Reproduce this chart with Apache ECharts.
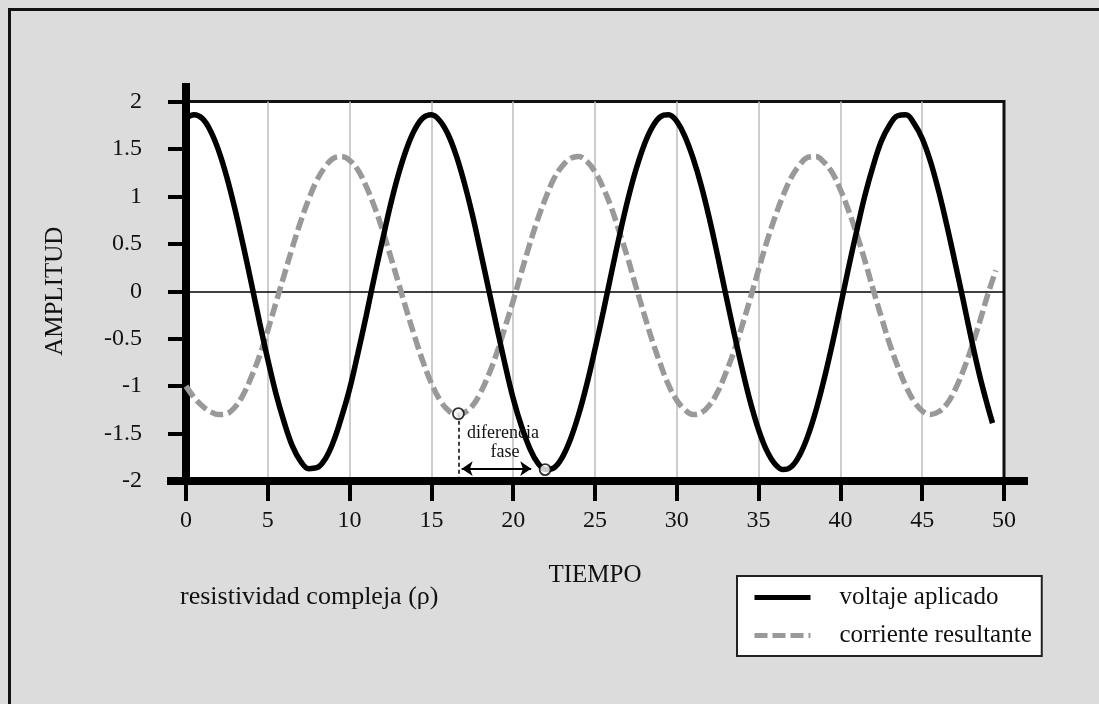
<!DOCTYPE html>
<html>
<head>
<meta charset="utf-8">
<script src="https://cdn.jsdelivr.net/npm/echarts@6/dist/echarts.min.js"></script>
<style>
html,body{margin:0;padding:0;background:#dcdcdc;}
#chart{width:1099px;height:704px;}
</style>
</head>
<body>
<div id="chart"></div>
<script>
// tiempo (eje x) y valores
var tiempoV = [0,0.5,1,1.5,2,2.5,3,3.5,4,4.5,5,5.5,6,6.5,7,7.5,8,8.5,9,9.5,10,10.5,11,11.5,12,12.5,13,13.5,14,14.5,
    15,15.5,16,16.5,17,17.5,18,18.5,19,19.5,20,20.5,21,21.5,22,22.5,23,23.5,24,24.5,25,25.5,26,26.5,27,27.5,28,28.5,29,29.5,
    30,30.5,31,31.5,32,32.5,33,33.5,34,34.5,35,35.5,36,36.5,37,37.5,38,38.5,39,39.5,40,40.5,41,41.5,42,42.5,43,43.5,44,44.5,
    45,45.5,46,46.5,47,47.5,48,48.5,49,49.3];
var voltaje = [1.82,1.86,1.82,1.69,1.48,1.20,0.86,0.48,0.08,-0.33,-0.72,-1.08,-1.38,-1.63,-1.79,-1.87,-1.86,-1.77,-1.59,-1.33,
    -1.03,-0.66,-0.27,0.14,0.53,0.91,1.24,1.51,1.71,1.83,1.86,1.80,1.66,1.44,1.15,0.81,0.42,0.02,-0.38,-0.77,
    -1.13,-1.42,-1.65,-1.81,-1.88,-1.86,-1.75,-1.56,-1.30,-0.98,-0.61,-0.22,0.19,0.59,0.96,1.28,1.54,1.73,1.84,1.86,
    1.79,1.63,1.40,1.11,0.76,0.37,-0.04,-0.44,-0.82,-1.17,-1.46,-1.68,-1.82,-1.88,-1.85,-1.73,-1.53,-1.26,-0.93,-0.56,
    -0.16,0.25,0.64,1.01,1.32,1.58,1.75,1.85,1.86,1.77,1.61,1.37,1.06,0.70,0.31,-0.09,-0.50,-0.88,-1.21,-1.39];

var tiempoI = [0,0.5,1,1.5,2,2.5,3,3.5,4,4.5,5,5.5,6,6.5,7,7.5,8,8.5,9,9.5,10,10.5,11,11.5,12,12.5,13,13.5,14,14.5,
    15,15.5,16,16.5,17,17.5,18,18.5,19,19.5,20,20.5,21,21.5,22,22.5,23,23.5,24,24.5,25,25.5,26,26.5,27,27.5,28,28.5,29,29.5,
    30,30.5,31,31.5,32,32.5,33,33.5,34,34.5,35,35.5,36,36.5,37,37.5,38,38.5,39,39.5,40,40.5,41,41.5,42,42.5,43,43.5,44,44.5,
    45,45.5,46,46.5,47,47.5,48,48.5,49,49.5];
var corriente = [-1.00,-1.12,-1.21,-1.27,-1.30,-1.29,-1.22,-1.09,-0.90,-0.68,-0.41,-0.12,0.17,0.46,0.73,0.97,1.17,1.31,1.40,1.42,
    1.38,1.28,1.11,0.90,0.65,0.37,0.08,-0.21,-0.49,-0.75,-0.97,-1.14,-1.25,-1.30,-1.28,-1.21,-1.07,-0.88,-0.65,-0.38,
    -0.10,0.20,0.49,0.76,0.99,1.19,1.32,1.40,1.42,1.37,1.26,1.09,0.88,0.62,0.35,0.05,-0.24,-0.52,-0.77,-0.99,
    -1.15,-1.25,-1.30,-1.28,-1.20,-1.06,-0.86,-0.63,-0.36,-0.07,0.23,0.52,0.78,1.01,1.20,1.33,1.41,1.42,1.36,1.25,
    1.07,0.85,0.60,0.32,0.02,-0.27,-0.55,-0.79,-1.00,-1.16,-1.26,-1.30,-1.27,-1.19,-1.04,-0.84,-0.60,-0.33,-0.04,0.22];

// minimos marcados para la diferencia de fase
var puntosFase = [[16.65, -1.29], [21.95, -1.88]];
var flechaFase = [[16.85, -1.87], [21.1, -1.87]];

var nombres = ['voltaje aplicado', 'corriente resultante'];
var fuente = 'Liberation Serif';

function pares(xs, ys) {
    var d = [];
    for (var i = 0; i < xs.length; i++) d.push([xs[i], ys[i]]);
    return d;
}

var myChart = echarts.init(document.getElementById('chart'));

// lineas verticales grises, la ultima (x=50) hace de borde del cuadro
var colorRejilla = ['#000'];
for (var k = 1; k < 10; k++) colorRejilla.push('#bdbdbd');
colorRejilla.push('#111');

var option = {
    backgroundColor: '#dcdcdc',
    animation: false,
    textStyle: {fontFamily: fuente, color: '#111'},
    grid: {
        left: 186, top: 101.5, right: 95, bottom: 223,
        show: true, backgroundColor: '#fff', borderColor: '#111', borderWidth: 3
    },
    legend: {
        orient: 'vertical', left: 737, top: 576,
        padding: [9, 10, 8, 15], itemGap: 13,
        itemWidth: 56, itemHeight: 14,
        backgroundColor: '#fff', borderColor: '#222', borderWidth: 2,
        itemStyle: {opacity: 0},
        lineStyle: {width: 5},
        textStyle: {fontFamily: fuente, fontSize: 25, color: '#111', padding: [0, 0, 0, 24]},
        data: nombres
    },
    xAxis: {
        type: 'value', min: 0, max: 50, interval: 5,
        name: 'TIEMPO', nameLocation: 'middle', nameGap: 82,
        nameTextStyle: {fontFamily: fuente, fontSize: 25, color: '#111'},
        axisLine: {show: true, onZero: false, lineStyle: {color: '#000', width: 8}},
        axisTick: {show: true, length: 20, lineStyle: {color: '#000', width: 4}},
        axisLabel: {margin: 28, fontSize: 24, fontFamily: fuente, color: '#111'},
        splitLine: {show: true, lineStyle: {color: colorRejilla, width: 1.5}}
    },
    yAxis: {
        type: 'value', min: -2, max: 2, interval: 0.5,
        name: 'AMPLITUD', nameLocation: 'middle', nameGap: 118, nameRotate: 90,
        nameTextStyle: {fontFamily: fuente, fontSize: 25, color: '#111'},
        axisLine: {show: true, onZero: false, lineStyle: {color: '#000', width: 8}},
        axisTick: {show: true, length: 18, lineStyle: {color: '#000', width: 4}},
        axisLabel: {margin: 44, fontSize: 24, fontFamily: fuente, color: '#111'},
        splitLine: {show: false}
    },
    series: [
        {
            name: nombres[0], type: 'line', smooth: 0.4, symbol: 'none', z: 3,
            data: pares(tiempoV, voltaje),
            lineStyle: {color: '#000', width: 5.5},
            itemStyle: {color: '#000'},
            markLine: {
                silent: true, symbol: 'none', z: 1,
                label: {show: false},
                lineStyle: {color: '#000', width: 1.5, type: 'solid'},
                data: [{yAxis: 0}]
            }
        },
        {
            name: nombres[1], type: 'line', smooth: 0.4, symbol: 'none', z: 2,
            data: pares(tiempoI, corriente),
            lineStyle: {color: '#999', width: 5.5, type: [13, 5]},
            itemStyle: {color: '#999'}
        },
        {
            // marcas de la diferencia de fase
            name: 'fase', type: 'scatter', z: 5,
            symbol: 'circle', symbolSize: 11,
            itemStyle: {color: '#fff', borderColor: '#000', borderWidth: 1.8},
            data: puntosFase,
            markLine: {
                silent: true, z: 4,
                label: {show: false},
                data: [
                    [{coord: puntosFase[0], symbol: 'none', lineStyle: {type: [4, 3], width: 1.5, color: '#000'}},
                     {coord: [puntosFase[0][0], -2], symbol: 'none'}],
                    [{coord: flechaFase[0], symbol: 'arrow', symbolSize: 11, lineStyle: {type: 'solid', width: 2, color: '#000'}},
                     {coord: flechaFase[1], symbol: 'arrow', symbolSize: 11}]
                ]
            }
        }
    ],
    graphic: [
        {type: 'rect', left: 7, top: 7, silent: true, z: 100,
         shape: {width: 1200, height: 800},
         style: {fill: 'none', stroke: '#111', lineWidth: 3}},
        {type: 'line', silent: true, z: 50, shape: {x1: 186, y1: 83, x2: 186, y2: 102}, style: {stroke: '#000', lineWidth: 8}},
        {type: 'line', silent: true, z: 50, shape: {x1: 167, y1: 481, x2: 186, y2: 481}, style: {stroke: '#000', lineWidth: 8}},
        {type: 'line', silent: true, z: 50, shape: {x1: 1003, y1: 481, x2: 1028, y2: 481}, style: {stroke: '#000', lineWidth: 8}},
        {type: 'text', left: 180, top: 584, silent: true,
         style: {text: 'resistividad compleja (\u03c1)', font: '26px "Liberation Serif"', fill: '#111'}},
        {type: 'text', x: 503, y: 433, silent: true, z: 60,
         style: {text: 'diferencia', font: '18px "Liberation Serif"', fill: '#111', align: 'center', verticalAlign: 'middle'}},
        {type: 'text', x: 505, y: 452, silent: true, z: 60,
         style: {text: 'fase', font: '18px "Liberation Serif"', fill: '#111', align: 'center', verticalAlign: 'middle'}}
    ]
};

myChart.setOption(option);
</script>
</body>
</html>
